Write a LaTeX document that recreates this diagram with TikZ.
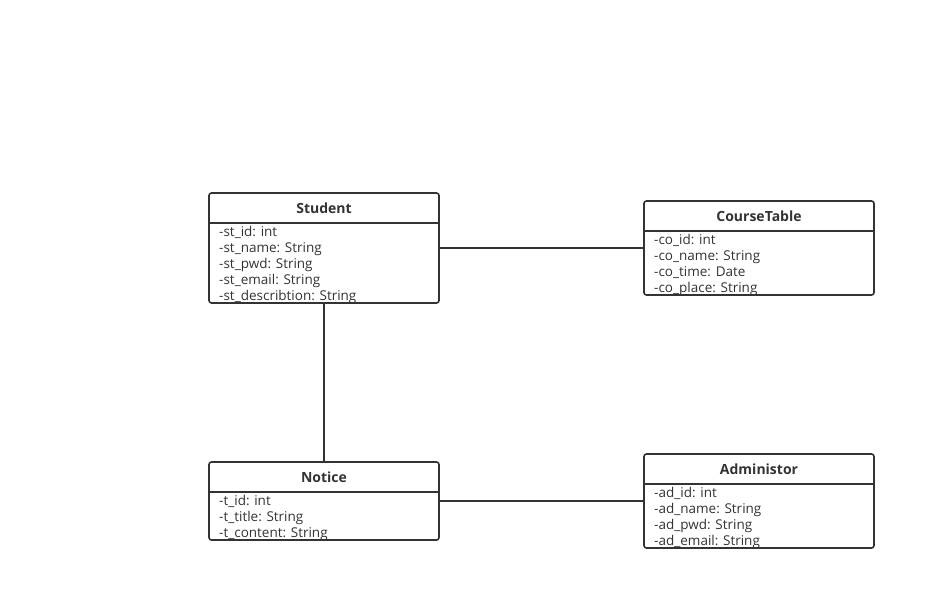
\documentclass[tikz,border=0pt]{standalone}
\usepackage{fontspec}
\setmainfont{Open Sans}
\definecolor{ink}{HTML}{333333}
\begin{document}
\begin{tikzpicture}[x=1pt,y=-1pt,
        classbox/.style={draw=ink,line width=1.6pt,rounded corners=2.5pt,minimum width=230pt,inner sep=0pt},
        classtitle/.style={font=\fontsize{14}{16}\selectfont\bfseries,text=ink,inner sep=0pt,anchor=base},
        attr/.style={font=\fontsize{13.5}{16}\selectfont,text=ink,inner sep=0pt,anchor=base west},
        link/.style={draw=ink,line width=1.6pt}]
            \useasboundingbox (0,0) rectangle (936,610);
            \node[classbox,minimum height=110pt] (student) at (324,248) {};
            \node[classtitle] (studenttitle) at (324,213) {Student};
            \draw[link] (209,223)--(439,223);
            \foreach \txt [count=\i] in {-st\_id: int,-st\_name: String,-st\_pwd: String,-st\_email: String,-st\_describtion: String}
                \node[attr] (studentattr\i) at (219,220+16*\i) {\txt};

            \node[classbox,minimum height=94pt] (course) at (759,248) {};
            \node[classtitle] (coursetitle) at (759,221) {CourseTable};
            \draw[link] (644,231)--(874,231);
            \foreach \txt [count=\i] in {-co\_id: int,-co\_name: String,-co\_time: Date,-co\_place: String}
                \node[attr] (courseattr\i) at (654,228+16*\i) {\txt};

            \node[classbox,minimum height=78pt] (notice) at (324,501) {};
            \node[classtitle] (noticetitle) at (324,482) {Notice};
            \draw[link] (209,492)--(439,492);
            \foreach \txt [count=\i] in {-t\_id: int,-t\_title: String,-t\_content: String}
                \node[attr] (noticeattr\i) at (219,489+16*\i) {\txt};

            \node[classbox,minimum height=94pt] (admin) at (759,501) {};
            \node[classtitle] (admintitle) at (759,474) {Administor};
            \draw[link] (644,484)--(874,484);
            \foreach \txt [count=\i] in {-ad\_id: int,-ad\_name: String,-ad\_pwd: String,-ad\_email: String}
                \node[attr] (adminattr\i) at (654,481+16*\i) {\txt};

            \draw[link] (student)--(course);
            \draw[link] (student)--(notice);
            \draw[link] (notice)--(admin);
        \end{tikzpicture}
\end{document}
